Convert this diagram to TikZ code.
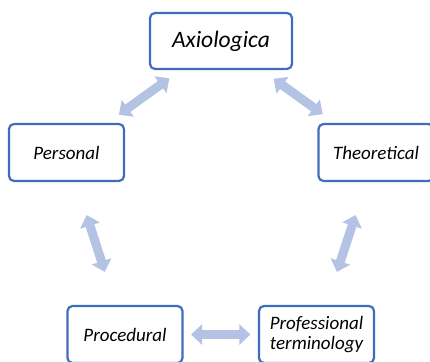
\documentclass[tikz,border=0pt]{standalone}
\usepackage{fontspec}
\setmainfont{Carlito}
\usetikzlibrary{shapes,arrows.meta,positioning}
\definecolor{boxblue}{RGB}{64,108,190}
\definecolor{linkblue}{RGB}{180,194,228}
\tikzstyle{block} = [draw=boxblue, line width=2.2pt, rectangle, rounded corners=5pt, align=center, text centered, minimum width=115pt, minimum height=57pt, inner sep=0pt, font=\itshape\fontsize{19}{20.5}\selectfont]
\tikzstyle{topblock} = [block, minimum width=142pt, minimum height=56pt, font=\itshape\fontsize{23.5}{26}\selectfont]
\tikzstyle{line} = [draw=linkblue, line width=9pt, {Triangle[length=11pt,width=20pt]}-{Triangle[length=11pt,width=20pt]}]

\begin{document}
\begin{tikzpicture}[node distance=100pt, on grid]
        \useasboundingbox (0,0) rectangle (430pt,361pt);
        \node[topblock] (ax) at (221pt,320pt) {Axiologica};
        \node[block, below left=111.5pt and 154.5pt of ax] (pers) {Personal};
        \node[block, below right=111.5pt and 155pt of ax] (theo) {Theoretical};
        \node[block, below right=182pt and 58.5pt of pers] (proc) {Procedural};
        \node[block, below left=182pt and 59.5pt of theo] (prof) {Professional\\terminology};
        \path[line, shorten <=14pt, shorten >=14pt] (pers) -- (ax);
        \path[line, shorten <=15pt, shorten >=15pt] (ax) -- (theo);
        \path[line, shorten <=34.7pt, shorten >=34.7pt] (pers) -- (proc);
        \path[line, shorten <=34.7pt, shorten >=34.7pt] (theo) -- (prof);
        \path[line, shorten <=7.5pt, shorten >=7.5pt] (proc) -- (prof);
    \end{tikzpicture}
\end{document}
